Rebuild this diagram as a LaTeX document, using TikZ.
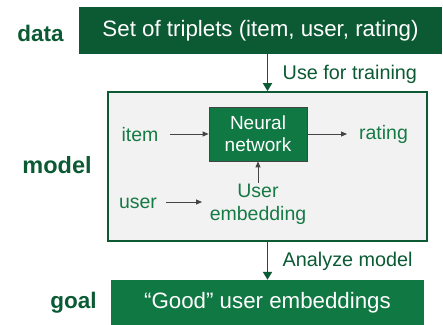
\documentclass[tikz,border=0pt]{standalone}
\usepackage{fontspec}
\setmainfont{Liberation Sans}
\usetikzlibrary{arrows.meta}
\definecolor{darkgreen}{HTML}{0B5A33}
\definecolor{midgreen}{HTML}{0F7843}
\definecolor{textgreen}{HTML}{167A45}
\definecolor{panelgray}{HTML}{F2F2F2}
\definecolor{arrowgray}{HTML}{444444}
\begin{document}
\begin{tikzpicture}[x=1pt,y=-1pt,
  rowlabel/.style={text=darkgreen,font=\fontsize{22.5}{24}\selectfont\bfseries},
  bandbox/.style={draw=none,inner sep=0pt,text=white,font=\fontsize{22.3}{24}\selectfont},
  flowlabel/.style={text=darkgreen,font=\fontsize{19.8}{22}\selectfont,anchor=west},
  innertext/.style={text=textgreen,font=\fontsize{19.5}{23}\selectfont,align=center},
  mainarrow/.style={draw=darkgreen,line width=1.8pt,-{Triangle[length=8pt,width=9pt]}},
  innerarrow/.style={draw=arrowgray,line width=0.9pt,-{Triangle[length=6pt,width=5pt]}}]
\useasboundingbox (0,0) rectangle (443,324);
% data row
\node[rowlabel] (datalbl) at (40.5,33) {data};
\node[bandbox,fill=darkgreen,minimum width=363pt,minimum height=47pt] (data) at (260.5,30.5) {Set of triplets (item, user, rating)};
% model panel
\node[draw=darkgreen,line width=1.8pt,fill=panelgray,minimum width=319pt,minimum height=149pt,inner sep=0pt] (model) at (267.5,166.5) {};
\node[rowlabel,font=\fontsize{23.5}{25}\selectfont\bfseries] (modellbl) at (57,165) {model};
\node[draw=arrowgray,line width=0.8pt,fill=midgreen,text=white,minimum width=98pt,minimum height=54pt,inner sep=0pt,align=center,font=\fontsize{19}{22}\selectfont] (nn) at (258,134) {Neural\\network};
\node[innertext] (item) at (140,135) {item};
\node[innertext] (rating) at (383.5,134) {rating};
\node[innertext] (user) at (138,203) {user};
\node[innertext,inner sep=1pt] (emb) at (258,204) {User\\embedding};
% inner connectors
\coordinate (itemstart) at (170,134);
\coordinate (ratingend) at (347,134);
\coordinate (userstart) at (166,202);
\coordinate (userend) at (202,202);
\draw[innerarrow] (itemstart) -- (nn.west |- itemstart);
\draw[innerarrow] (nn.east |- ratingend) -- (ratingend);
\draw[innerarrow] (userstart) -- (userend);
\draw[innerarrow] (emb.north) -- (nn.south);
% goal row
\node[rowlabel] (goallbl) at (73.5,303) {goal};
\node[bandbox,fill=midgreen,minimum width=313pt,minimum height=46pt] (goal) at (267.5,303) {“Good” user embeddings};
% connectors between rows
\draw[mainarrow] (data.south -| model.north) -- (model.north) node[flowlabel,midway,xshift=11pt,yshift=-2pt] (trainlbl) {Use for training};
\draw[mainarrow] (model.south) -- (goal.north -| model.south) node[flowlabel,midway,xshift=11pt,yshift=-1pt] (analyzelbl) {Analyze model};
\end{tikzpicture}
\end{document}
